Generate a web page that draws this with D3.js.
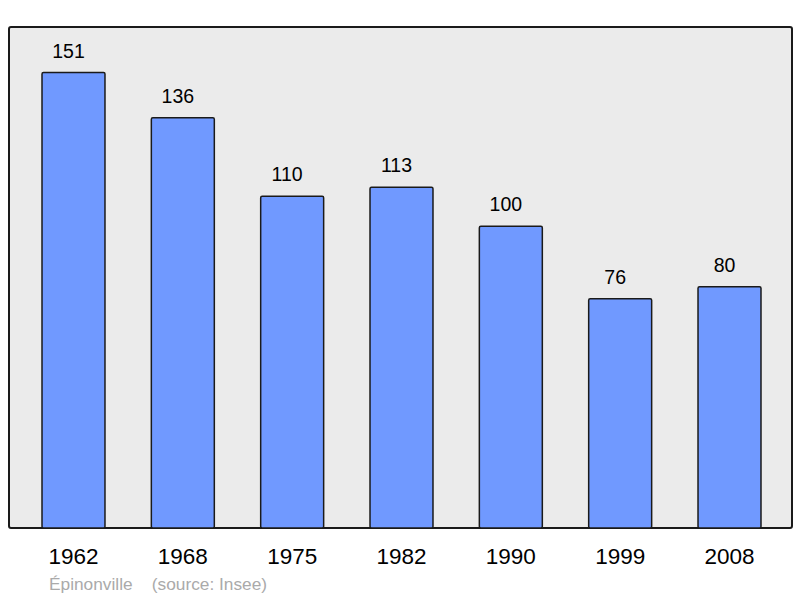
<!DOCTYPE html>
<html><head><meta charset="utf-8">
<script src="https://cdn.jsdelivr.net/npm/d3@7"></script>
<style>body{margin:0;background:#fff}svg{display:block}</style>
</head><body>
<svg id="c" width="800" height="598"></svg>
<script>
const years = ["1962","1968","1975","1982","1990","1999","2008"];
const population = [151,136,110,113,100,76,80];
const commune = "Épinonville";
const source = "(source: Insee)";

const svg = d3.select("#c");
const box = {x0: 9, y0: 27, x1: 792, y1: 528};

svg.append("rect").attr("x", box.x0).attr("y", box.y0)
  .attr("width", box.x1 - box.x0).attr("height", box.y1 - box.y0)
  .attr("rx", 2).attr("fill", "#ebebeb").attr("stroke", "#1a1a1a").attr("stroke-width", 2);

const x = d3.scaleBand().domain(years).range([10.3, 792.7])
  .paddingInner(0.424).paddingOuter(0.29);
const y = d3.scaleLinear().domain([0, d3.max(population) * 1.1]).range([box.y1, box.y0]);

const g = svg.append("g");
g.selectAll("rect.bar").data(years).join("rect").attr("class", "bar")
  .attr("x", d => x(d)).attr("width", x.bandwidth())
  .attr("y", (d, i) => y(population[i])).attr("height", (d, i) => y(0) - y(population[i]))
  .attr("rx", 1.5).attr("fill", "#7099ff").attr("stroke", "#1a1a1a").attr("stroke-width", 1.5);

g.selectAll("text.val").data(years).join("text").attr("class", "val")
  .attr("x", d => x(d) + x.bandwidth() / 2 - 5).attr("y", (d, i) => y(population[i]) - 15)
  .attr("text-anchor", "middle").attr("font-family", "Liberation Sans, Arial, sans-serif")
  .attr("font-size", 19.5).attr("fill", "#000").text((d, i) => population[i]);

const xAxis = d3.axisBottom(x).tickSize(0).tickPadding(0);
const ax = svg.append("g").attr("transform", `translate(0,${box.y1})`).call(xAxis);
ax.select(".domain").remove();
ax.selectAll("text").attr("font-family", "Liberation Sans, Arial, sans-serif")
  .attr("font-size", 22.5).attr("fill", "#000").attr("dy", 0).attr("y", 36);

svg.append("text").attr("x", 49).attr("y", 590)
  .attr("font-family", "Liberation Sans, Arial, sans-serif").attr("font-size", 17.3)
  .attr("fill", "#aaaaaa").attr("xml:space", "preserve")
  .text(commune + "    " + source);
</script>
</body></html>
